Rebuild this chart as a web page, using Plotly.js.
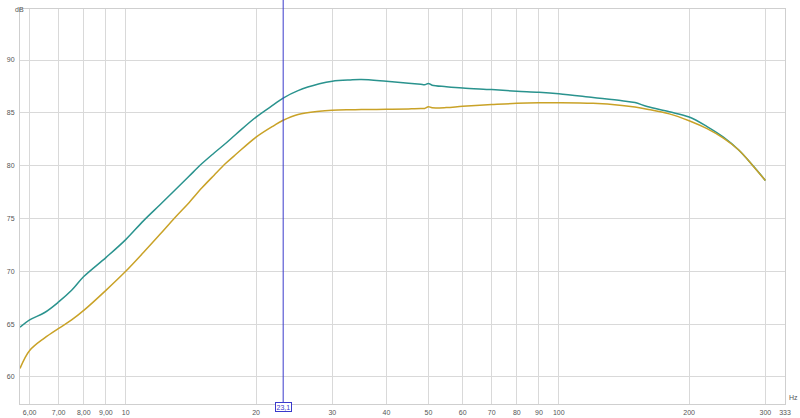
<!DOCTYPE html>
<html><head><meta charset="utf-8">
<script src="https://cdn.plot.ly/plotly-3.0.1.min.js"></script>
<style>html,body{margin:0;padding:0;background:#fff}#chart{width:800px;height:418px}</style>
</head><body><div id="chart"></div>
<script>
const freq = [5.7, 6, 6.5, 7, 7.5, 8, 9, 10, 11, 12, 13, 14, 15, 16, 17, 18, 20, 22, 23.1, 25, 28, 30, 33, 35, 40, 45, 48, 49, 50, 51, 55, 60, 70, 80, 90, 100, 120, 140, 150, 160, 180, 200, 220, 240, 260, 280, 300];
const tealDb = [64.7, 65.4, 66.1, 67.1, 68.2, 69.5, 71.3, 73.0, 74.8, 76.3, 77.7, 79.0, 80.2, 81.2, 82.1, 83.0, 84.6, 85.8, 86.4, 87.1, 87.75, 88.0, 88.12, 88.15, 87.98, 87.8, 87.7, 87.66, 87.78, 87.62, 87.48, 87.35, 87.2, 87.05, 86.94, 86.8, 86.45, 86.15, 85.97, 85.6, 85.1, 84.6, 83.7, 82.7, 81.5, 80.06, 78.6];
const goldDb = [60.8, 62.5, 63.7, 64.6, 65.4, 66.3, 68.2, 70.0, 71.8, 73.5, 75.1, 76.5, 77.9, 79.1, 80.2, 81.1, 82.7, 83.8, 84.3, 84.85, 85.15, 85.24, 85.29, 85.31, 85.33, 85.37, 85.4, 85.42, 85.58, 85.48, 85.5, 85.62, 85.78, 85.9, 85.95, 85.96, 85.9, 85.7, 85.55, 85.35, 84.9, 84.25, 83.5, 82.6, 81.5, 80.05, 78.6];
const xTickVals = [6, 7, 8, 9, 10, 20, 30, 40, 50, 60, 70, 80, 90, 100, 200, 300, 333];
const xTickText = ['6,00', '7,00', '8,00', '9,00', '10', '20', '30', '40', '50', '60', '70', '80', '90', '100', '200', '300', '333'];
const yTickVals = [60, 65, 70, 75, 80, 85, 90];
const cursorFreq = 23.1;
const cursorLabel = '23,1';

const font = {family: 'Liberation Sans, Arial, sans-serif', size: 7, color: '#555'};
const traces = [
  {x: freq, y: tealDb, type: 'scatter', mode: 'lines', line: {color: '#2a938e', width: 1.5, shape: 'spline', smoothing: 1.0}, hoverinfo: 'skip'},
  {x: freq, y: goldDb, type: 'scatter', mode: 'lines', line: {color: '#c9a227', width: 1.5, shape: 'spline', smoothing: 1.0}, hoverinfo: 'skip'}
];
const layout = {
  width: 800, height: 418,
  margin: {l: 20, r: 15, t: 9, b: 14, pad: 0},
  paper_bgcolor: '#fff', plot_bgcolor: '#fff',
  showlegend: false,
  font: font,
  xaxis: {type: 'log', range: [Math.log10(5.7), Math.log10(333)], tickvals: xTickVals, ticktext: xTickText,
    showgrid: true, gridcolor: '#d9d9d9', gridwidth: 1, zeroline: false, showline: true, linecolor: '#cfcfcf', mirror: true,
    ticks: '', ticklabelstandoff: 2, tickfont: font, fixedrange: true},
  yaxis: {range: [57.44, 94.83], tickvals: yTickVals, showgrid: true, gridcolor: '#d9d9d9', gridwidth: 1,
    zeroline: false, showline: true, linecolor: '#cfcfcf', mirror: true, ticks: '', ticklabelstandoff: 3, tickfont: font, fixedrange: true},
  shapes: [{type: 'line', xref: 'x', yref: 'paper', x0: cursorFreq, x1: cursorFreq, y0: 0, y1: 1.023, line: {color: '#3a3acc', width: 1}}],
  annotations: [
    {xref: 'x', yref: 'paper', x: Math.log10(cursorFreq), y: 0, yshift: -8, text: cursorLabel, showarrow: false,
      font: {family: font.family, size: 7, color: '#3a3acc'}, bgcolor: '#fff', bordercolor: '#3a3acc', borderwidth: 1, borderpad: 0.5},
    {xref: 'paper', yref: 'paper', x: 0, y: 1, xshift: -7, yshift: 5, text: 'dB', showarrow: false, font: font},
    {xref: 'paper', yref: 'paper', x: 1, y: 0, xshift: 2, yshift: 1, xanchor: 'left', text: 'Hz', showarrow: false, font: font}
  ]
};
Plotly.newPlot('chart', traces, layout, {staticPlot: true, displayModeBar: false});
</script></body></html>
